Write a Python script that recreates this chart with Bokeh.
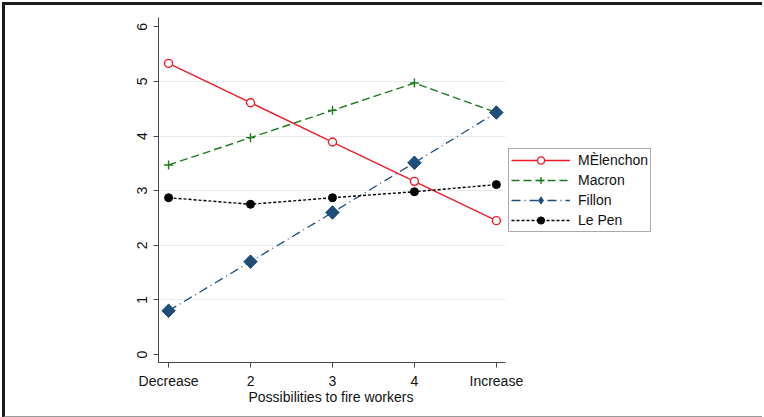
import math
from bokeh.plotting import figure
from bokeh.models import FixedTicker, Legend, LegendItem, Range1d, Title
from bokeh.embed import file_html
from bokeh.resources import INLINE

categories = ["Decrease", "2", "3", "4", "Increase"]
melenchon = [5.33, 4.61, 3.89, 3.17, 2.45]
macron = [3.47, 3.97, 4.47, 4.97, 4.43]
fillon = [0.80, 1.70, 2.60, 3.51, 4.43]
lepen = [2.87, 2.75, 2.87, 2.98, 3.11]
y_ticks = [0, 1, 2, 3, 4, 5, 6]
x_title = "Possibilities to fire workers"

x = list(range(1, len(categories) + 1))
FONT = "Liberation Sans"
X0, X1 = 0.877, 5.11

p = figure(width=760, height=416, output_backend="svg", toolbar_location=None,
           x_range=Range1d(X0, 8.26), y_range=Range1d(-0.147, 6.17),
           min_border_left=153, min_border_right=2, min_border_top=12, min_border_bottom=59)
p.styles = {"border-left": "3px solid #1c1c1c", "border-top": "3px solid #1c1c1c",
            "border-bottom": "2px solid #9a9a9a", "margin-left": "2px", "margin-top": "2px"}
p.outline_line_color = None
p.background_fill_color = "white"
p.border_fill_color = "white"

p.xaxis.ticker = FixedTicker(ticks=x)
p.xaxis.bounds = (X0, X1)
p.xaxis.major_label_overrides = {i + 1: c for i, c in enumerate(categories)}
p.yaxis.ticker = FixedTicker(ticks=y_ticks)
p.yaxis.major_label_orientation = "vertical"
for ax in (p.xaxis[0], p.yaxis[0]):
    ax.axis_line_color = "#444444"
    ax.major_tick_line_color = "#444444"
    ax.minor_tick_line_color = None
    ax.major_tick_out = 5
    ax.major_tick_in = 0
    ax.major_label_text_font = FONT
    ax.major_label_text_font_size = "14px"
    ax.major_label_text_color = "#111111"
p.xaxis.major_label_standoff = 5
p.yaxis.major_label_standoff = 6
p.xgrid.grid_line_color = None
p.ygrid.ticker = FixedTicker(ticks=[1, 2, 3, 4, 5])
p.ygrid.cross_bounds = (X0, X1)
p.ygrid.grid_line_color = "#e4ecef"
p.ygrid.grid_line_width = 1

xt = Title(text=x_title, align="left", offset=90, standoff=-9,
           text_font=FONT, text_font_size="14px", text_font_style="normal", text_color="#111111")
p.add_layout(xt, "below")

RED = "#ee1c25"
GREEN = "#1e7b1e"
NAVY = "#1f4e79"

l1 = p.line(x, melenchon, line_color=RED, line_width=1.4)
m1 = p.scatter(x, melenchon, marker="circle", size=8, line_color=RED, fill_color="white", line_width=1.4)
l2 = p.line(x, macron, line_color=GREEN, line_width=1.4, line_dash="8 4")
m2 = p.scatter(x, macron, marker="cross", size=9, line_color=GREEN, line_width=1.4)
l3 = p.line(x, fillon, line_color=NAVY, line_width=1.3, line_dash="9 4 1 4")
m3_key = p.scatter(x, fillon, marker="diamond", size=13, line_color=NAVY, fill_color=NAVY)
m3 = p.scatter(x, fillon, marker="square", angle=math.pi / 4, size=9.5, line_color=NAVY, fill_color=NAVY)
l4 = p.line(x, lepen, line_color="black", line_width=1.4, line_dash="3 2")
m4 = p.scatter(x, lepen, marker="circle", size=8, line_color="black", fill_color="black")

legend = Legend(items=[
    LegendItem(label="MÈlenchon", renderers=[l1, m1]),
    LegendItem(label="Macron", renderers=[l2, m2]),
    LegendItem(label="Fillon", renderers=[l3, m3_key]),
    LegendItem(label="Le Pen", renderers=[l4, m4]),
], location=(350, 130))
legend.label_text_font = FONT
legend.label_text_font_size = "14px"
legend.label_text_color = "#111111"
legend.glyph_width = 59
legend.glyph_height = 18
legend.label_height = 18
legend.label_standoff = 8
legend.spacing = 2
legend.padding = 2
legend.margin = 0
legend.border_line_color = "#555555"
legend.border_line_width = 1
legend.background_fill_color = "white"
p.add_layout(legend, "center")

open("out.html", "w").write(file_html(p, INLINE))
